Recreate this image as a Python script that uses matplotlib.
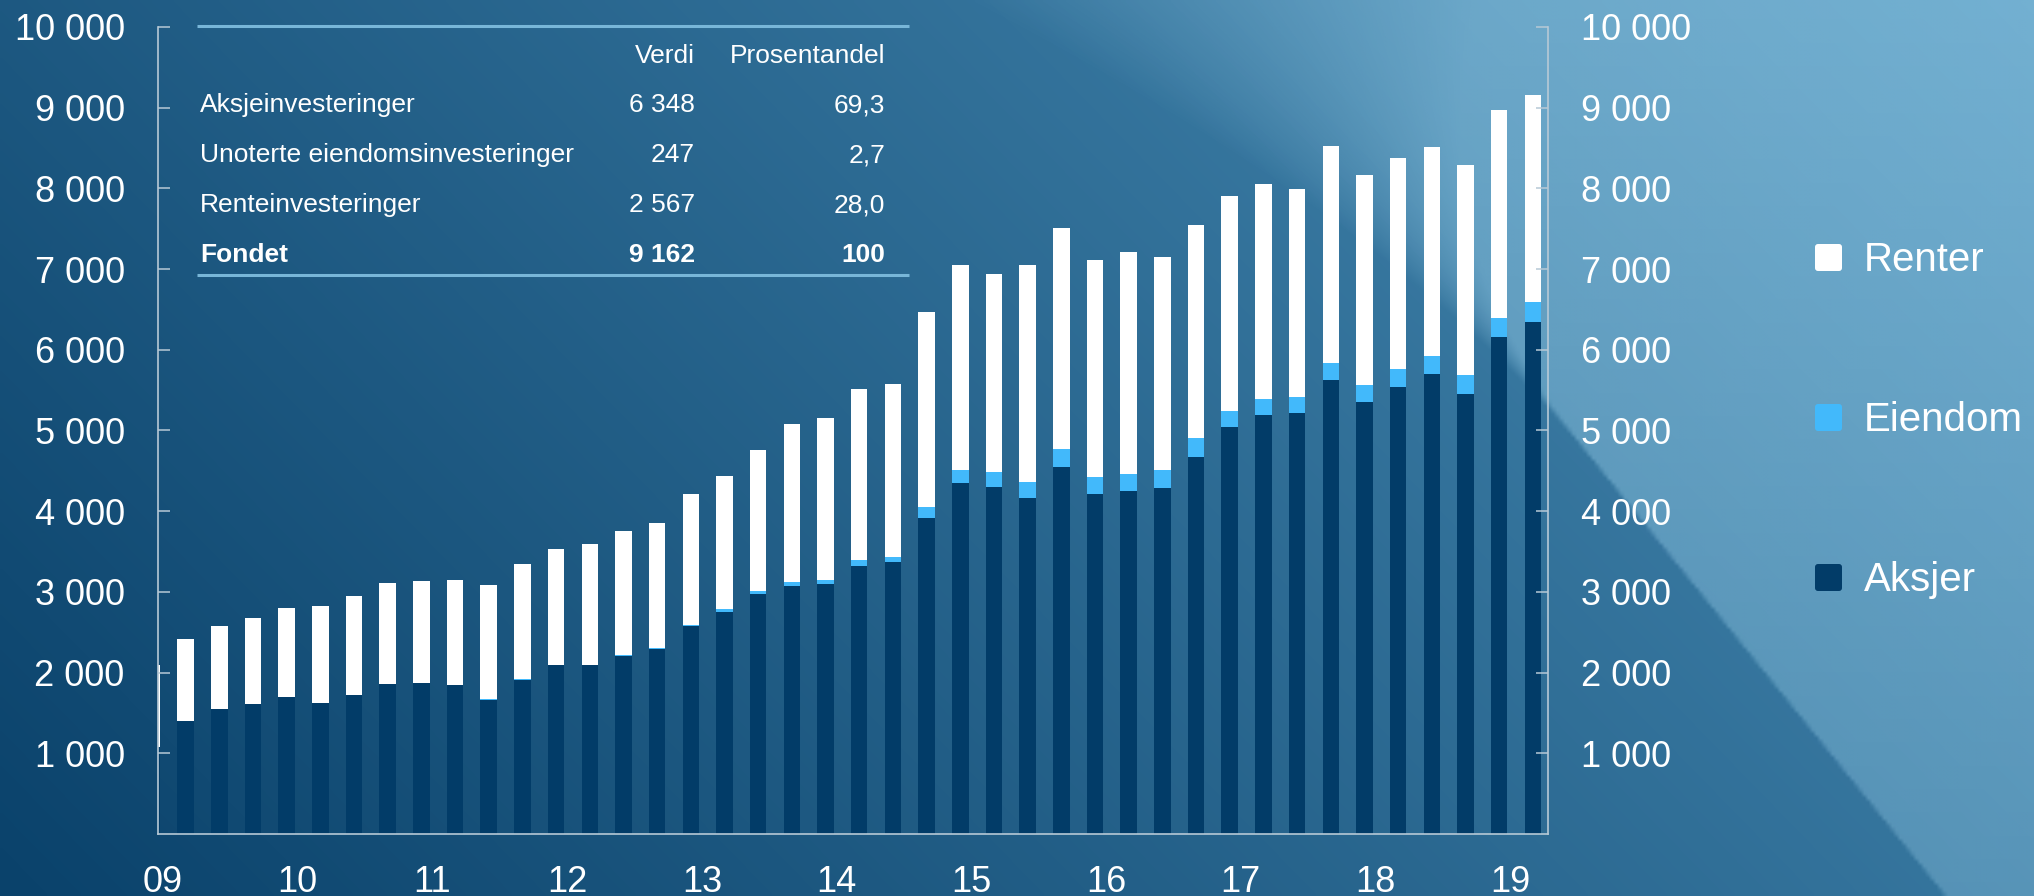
import numpy as np
import matplotlib
matplotlib.use("Agg")
import matplotlib.pyplot as plt
from matplotlib.patches import FancyBboxPatch
from matplotlib.colors import LinearSegmentedColormap, to_rgb

# -------------------------------------------------------- #
#          Data: fund market value by quarter (mrd kr)     #
#          2009 Q1 - 2019 Q2                               #
# -------------------------------------------------------- #

quarters = ["%d Q%d" % (y, q) for y in range(2009, 2020) for q in (1, 2, 3, 4)][:42]

aksjer = [1082, 1404, 1545, 1611, 1693, 1627, 1722, 1855, 1867, 1846,
          1655, 1910, 2088, 2088, 2205, 2290, 2577, 2745, 2974, 3075,
          3092, 3327, 3366, 3911, 4354, 4303, 4168, 4542, 4208, 4246,
          4290, 4668, 5047, 5192, 5213, 5626, 5347, 5541, 5700, 5452,
          6160, 6348]
eiendom = [0, 0, 0, 0, 0, 0, 0, 0, 0, 0,
           12, 7, 6, 6, 13, 19, 19, 37, 40, 42,
           55, 68, 70, 137, 153, 183, 198, 231, 220, 220,
           218, 235, 194, 204, 196, 214, 217, 217, 223, 236,
           238, 247]
renter = [1012, 1012, 1036, 1061, 1103, 1202, 1223, 1259, 1272, 1297,
          1422, 1433, 1438, 1504, 1542, 1545, 1617, 1654, 1744, 1960,
          2004, 2119, 2140, 2424, 2539, 2453, 2691, 2739, 2685, 2746,
          2645, 2643, 2664, 2661, 2582, 2685, 2596, 2619, 2594, 2606,
          2577, 2567]

year_labels = ["09", "10", "11", "12", "13", "14", "15", "16", "17", "18", "19"]
y_ticks = [1000, 2000, 3000, 4000, 5000, 6000, 7000, 8000, 9000, 10000]

series_names = ["Renter", "Eiendom", "Aksjer"]

tbl_names = ["Aksjeinvesteringer", "Unoterte eiendomsinvesteringer",
             "Renteinvesteringer", "Fondet"]
tbl_verdi = [6348, 247, 2567, 9162]
tbl_pct = ["69,3", "2,7", "28,0", "100"]

# ---------- colours ---------- #
c_aksjer = "#023c68"
c_eiendom = "#42b9fb"
c_renter = "#ffffff"
c_spine = "#b7c9d6"
c_rule = "#78b6d8"

plt.rcParams["font.family"] = ["Liberation Sans", "DejaVu Sans"]

W, H = 2034, 896
fig = plt.figure(figsize=(W / 100, H / 100), dpi=100)

# -------------------------------------------------------- #
#                   Gradient background                    #
# -------------------------------------------------------- #

bg = fig.add_axes([0, 0, 1, 1])
bg.set_zorder(0)
bg.set_xlim(0, W)
bg.set_ylim(H, 0)
bg.axis("off")

nx, ny = 510, 224
X, Y = np.meshgrid(np.linspace(0, W, nx), np.linspace(0, H, ny))
t = 0.7 * X / W + 0.3 * (1 - Y / H)
cmap = LinearSegmentedColormap.from_list("bg", ["#0a426b", "#4a8db5"])
bg.imshow(t, cmap=cmap, extent=(0, W, H, 0), aspect="auto",
          interpolation="bilinear", vmin=0, vmax=1)

# lighter diagonal panel, sharp edge at the bottom, fading out towards the top
d = X - (1223 + 0.807 * Y)
soft = 3 + 520 * np.clip((450 - Y) / 450, 0, 1) ** 2
amp = 0.3 + 0.15 * (1 - Y / H)
alpha = amp * np.clip(0.5 + d / soft, 0, 1)
ov_rgba = np.zeros((ny, nx, 4))
ov_rgba[..., :3] = to_rgb("#a6dcf5")
ov_rgba[..., 3] = alpha
bg.imshow(ov_rgba, extent=(0, W, H, 0), aspect="auto", interpolation="bilinear")

# -------------------------------------------------------- #
#                    Stacked bar chart                     #
# -------------------------------------------------------- #

ax = fig.add_axes([158 / W, 1 - 834 / H, (1548 - 158) / W, (834 - 27) / H])
ax.set_zorder(1)
ax.patch.set_alpha(0)

x = np.arange(len(quarters))
a = np.array(aksjer)
e = np.array(eiendom)
r = np.array(renter)
bw = 0.49
ax.bar(x, a, bw, color=c_aksjer, label="Aksjer", lw=0)
ax.bar(x, e, bw, bottom=a, color=c_eiendom, label="Eiendom", lw=0)
ax.bar(x, r, bw, bottom=a + e, color=c_renter, label="Renter", lw=0)

ax.set_xlim(0.18, 41.45)
ax.set_ylim(0, 10000)

for s in ["left", "right", "bottom"]:
    ax.spines[s].set_color(c_spine)
    ax.spines[s].set_linewidth(1.2)
ax.spines["top"].set_visible(False)

ax.set_yticks(y_ticks)
ax.set_yticklabels([format(v, ",").replace(",", " ") for v in y_ticks])
ax.tick_params(axis="y", direction="in", length=8.5, width=1.1,
               color=c_spine, labelsize=26, labelcolor="white", pad=24,
               left=True, right=True, labelleft=True, labelright=True)

ax.set_xticks([4 * k + 0.33 for k in range(len(year_labels))])
ax.set_xticklabels(year_labels)
ax.tick_params(axis="x", length=0, pad=22, labelsize=26, labelcolor="white")

# -------------------------------------------------------- #
#              Overlay: table and legend                   #
# -------------------------------------------------------- #

ov = fig.add_axes([0, 0, 1, 1])
ov.set_zorder(2)
ov.patch.set_alpha(0)
ov.set_xlim(0, W)
ov.set_ylim(H, 0)
ov.axis("off")

ov.plot([197, 909], [26, 26], color=c_rule, lw=2.2, solid_capstyle="butt")
ov.plot([197, 909], [275, 275], color=c_rule, lw=2.2, solid_capstyle="butt")

fs_tbl = 19
ov.text(695, 63, "Verdi", ha="right", va="baseline", color="white", fontsize=fs_tbl)
ov.text(885, 63, "Prosentandel", ha="right", va="baseline", color="white", fontsize=fs_tbl)
for i, (nm, vd, pc) in enumerate(zip(tbl_names, tbl_verdi, tbl_pct)):
    yb = 112 + 50 * i
    fw = "bold" if nm == "Fondet" else "normal"
    ov.text(200, yb, nm, ha="left", va="baseline", color="white",
            fontsize=fs_tbl, fontweight=fw)
    ov.text(695, yb, format(vd, ",").replace(",", " "), ha="right",
            va="baseline", color="white", fontsize=fs_tbl, fontweight=fw)
    ov.text(885, yb, pc, ha="right", va="baseline", color="white",
            fontsize=fs_tbl, fontweight=fw)

leg_colors = [c_renter, c_eiendom, c_aksjer]
for i, (nm, col) in enumerate(zip(series_names, leg_colors)):
    yb = 271 + 160 * i
    ov.add_patch(FancyBboxPatch((1815, yb - 27), 27, 27,
                                boxstyle="round,pad=0,rounding_size=3",
                                facecolor=col, edgecolor="none"))
    ov.text(1864, yb, nm, ha="left", va="baseline", color="white", fontsize=29)

fig.savefig("out.png", dpi=100)
